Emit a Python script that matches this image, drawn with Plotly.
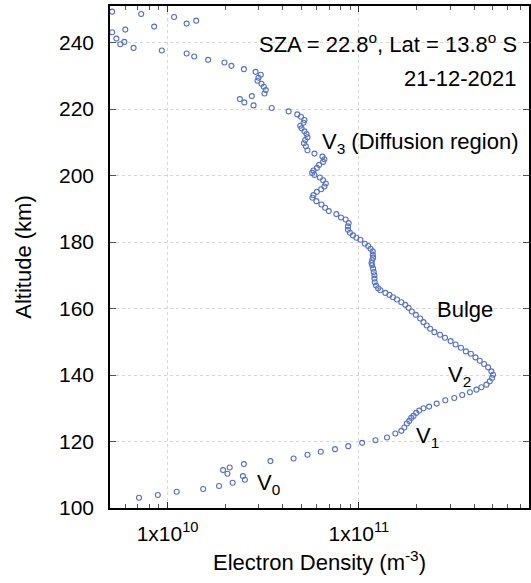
import numpy as np
import plotly.graph_objects as go

# Electron density profile (units of 1e10 m^-3) versus altitude (km)
altitude_km = [
    249.3, 248.6, 247.7, 246.6, 245.7, 244.8, 243.9, 243.1, 241.2, 240.2,
    239.5, 238.4, 237.6, 236.7, 235.8, 234.8, 234.0, 233.0, 232.0, 231.2,
    230.3, 229.4, 228.5, 227.6, 226.7, 225.7, 224.7, 223.9, 223.0, 222.0,
    221.1, 220.3, 219.3, 218.4, 217.7, 216.7, 215.9, 215.0, 214.2, 213.3,
    212.5, 211.5, 210.7, 209.7, 208.8, 207.6, 206.6, 205.7, 204.9, 204.1,
    203.2, 202.3, 201.5, 200.8, 200.2, 199.4, 198.6, 197.6, 196.7, 195.9,
    195.1, 194.1, 193.3, 192.3, 191.3, 190.3, 189.3, 188.4, 187.4, 186.8,
    185.7, 184.7, 183.7, 182.8, 182.0, 181.3, 180.7, 179.5, 178.8, 178.0,
    177.2, 176.2, 175.3, 174.5, 173.7, 173.0, 172.0, 171.0, 170.0, 169.0,
    167.9, 166.9, 166.1, 165.5, 164.7, 164.1, 163.4, 162.7, 161.9, 161.1,
    160.2, 159.1, 158.1, 157.0, 155.9, 154.9, 153.9, 152.9, 152.1, 151.2,
    150.2, 149.2, 148.2, 147.1, 146.4, 145.3, 144.3, 143.3, 142.3, 141.1,
    140.1, 139.1, 138.1, 137.1, 136.3, 135.6, 134.8, 134.0, 133.1, 132.4,
    131.4, 130.5, 130.0, 129.3, 128.6, 127.7, 127.1, 126.2, 125.4, 124.2,
    123.2, 122.4, 121.2, 120.4, 119.6, 118.6, 117.7, 116.9, 116.0, 114.9,
    114.1, 113.2, 112.2, 111.4, 110.3, 109.6, 108.5, 107.6, 106.6, 105.7,
    104.9, 103.9, 103.1,
]

density_1e10 = [
    0.513, 0.728, 1.081, 1.411, 1.258, 0.851, 0.601, 0.513, 0.540, 0.594,
    0.566, 0.664, 0.933, 1.258, 1.378, 1.629, 1.983, 2.156, 2.506, 2.883,
    3.071, 2.988, 2.952, 3.097, 3.184, 3.260, 3.210, 2.758, 2.388, 2.518,
    2.814, 3.503, 4.293, 4.764, 4.980, 5.197, 5.135, 4.938, 5.015, 5.197,
    5.323, 5.387, 5.242, 5.160, 5.285, 5.387, 5.857, 6.448, 6.602, 6.501,
    6.197, 6.030, 5.788, 5.698, 5.857, 6.249, 6.501, 6.714, 6.602, 6.347,
    6.030, 5.788, 5.719, 6.000, 6.371, 6.659, 6.960, 7.623, 8.063, 8.529,
    8.844, 8.769, 8.769, 8.980, 9.307, 9.705, 10.18, 10.74, 11.18, 11.50,
    11.82, 11.82, 11.87, 11.73, 11.64, 11.73, 11.87, 11.96, 12.06, 12.06,
    12.11, 12.30, 12.60, 12.96, 13.76, 14.44, 15.07, 15.81, 16.67, 17.48,
    18.19, 18.92, 19.85, 20.92, 21.76, 22.63, 23.58, 24.82, 26.57, 28.20,
    30.17, 32.03, 34.17, 36.27, 38.50, 40.68, 42.87, 45.13, 47.35, 49.26,
    50.26, 49.66, 48.32, 46.40, 43.70, 41.17, 38.04, 34.70, 31.53, 28.31,
    25.51, 23.30, 21.76, 20.67, 19.94, 19.31, 18.78, 18.34, 17.82, 17.28,
    16.67, 15.51, 14.03, 12.21, 10.40, 8.798, 7.504, 6.324, 5.387, 4.557,
    3.449, 2.506, 2.112, 1.950, 2.055, 2.476, 2.536, 2.189, 1.858, 1.535,
    1.116, 0.889, 0.709,
]

# Axis ticks
x_major_ticks = [1e10, 1e11]
x_major_labels = ["1x10<sup>10</sup>", "1x10<sup>11</sup>"]
x_minor_ticks = [5e9, 6e9, 7e9, 8e9, 9e9,
                 2e10, 3e10, 4e10, 5e10, 6e10, 7e10, 8e10, 9e10,
                 2e11, 3e11, 4e11, 5e11, 6e11, 7e11]
y_ticks = [100, 120, 140, 160, 180, 200, 220, 240]

x_range = [5e9, 7.75e11]
y_range = [100, 251]

FONT = "Liberation Sans, Arial, Helvetica, sans-serif"
MARK = "#5573c4"

ne = np.array(density_1e10) * 1e10

fig = go.Figure()
fig.add_trace(go.Scatter(
    x=ne, y=altitude_km, mode="markers",
    marker=dict(symbol="circle-open", size=5, color=MARK, line=dict(width=1.1)),
    showlegend=False, hoverinfo="x+y",
))

labels = [
    (0.976, 240.0, "SZA = 22.8<sup>o</sup>, Lat = 13.8<sup>o</sup> S", "right"),
    (0.976, 229.3, "21-12-2021", "right"),
    (0.500, 209.8, "V<sub>3</sub> (Diffusion region)", "left"),
    (0.776, 159.7, "Bulge", "left"),
    (0.802, 139.8, "V<sub>2</sub>", "left"),
    (0.726, 121.4, "V<sub>1</sub>", "left"),
    (0.346, 107.2, "V<sub>0</sub>", "left"),
]
for xp, yv, txt, anchor in labels:
    fig.add_annotation(x=xp, xref="paper", y=yv, yref="y", text=txt,
                       showarrow=False, xanchor=anchor, yanchor="middle",
                       font=dict(family=FONT, size=22, color="black"))

fig.update_xaxes(
    type="log", range=[np.log10(x_range[0]), np.log10(x_range[1])],
    tickmode="array", tickvals=x_major_ticks, ticktext=x_major_labels,
    ticks="inside", ticklen=6, tickwidth=1, tickcolor="#333",
    minor=dict(tickmode="array", tickvals=x_minor_ticks, ticks="inside",
               ticklen=4, tickcolor="#555", showgrid=False),
    showgrid=True, gridcolor="#d6d6d6", griddash="dot", gridwidth=1,
    showline=True, linecolor="black", linewidth=1.5, mirror="ticks",
    zeroline=False, ticklabelstandoff=6,
    tickfont=dict(family=FONT, size=21, color="black"),
    title=dict(text="Electron Density (m<sup>-3</sup>)", standoff=11,
               font=dict(family=FONT, size=22, color="black")),
)
fig.update_yaxes(
    range=y_range, tickmode="array", tickvals=y_ticks,
    ticks="inside", ticklen=6, tickwidth=1, tickcolor="#555",
    showgrid=True, gridcolor="#d6d6d6", griddash="dot", gridwidth=1,
    showline=True, linecolor="black", linewidth=1.5, mirror="ticks",
    zeroline=False, ticklabelstandoff=10,
    tickfont=dict(family=FONT, size=21, color="black"),
    title=dict(text="Altitude (km)", standoff=21,
               font=dict(family=FONT, size=22, color="black")),
)

fig.update_layout(
    width=531, height=583,
    margin=dict(l=110, r=0, t=6, b=75),
    plot_bgcolor="white", paper_bgcolor="white",
)

fig.write_html("out.html")
